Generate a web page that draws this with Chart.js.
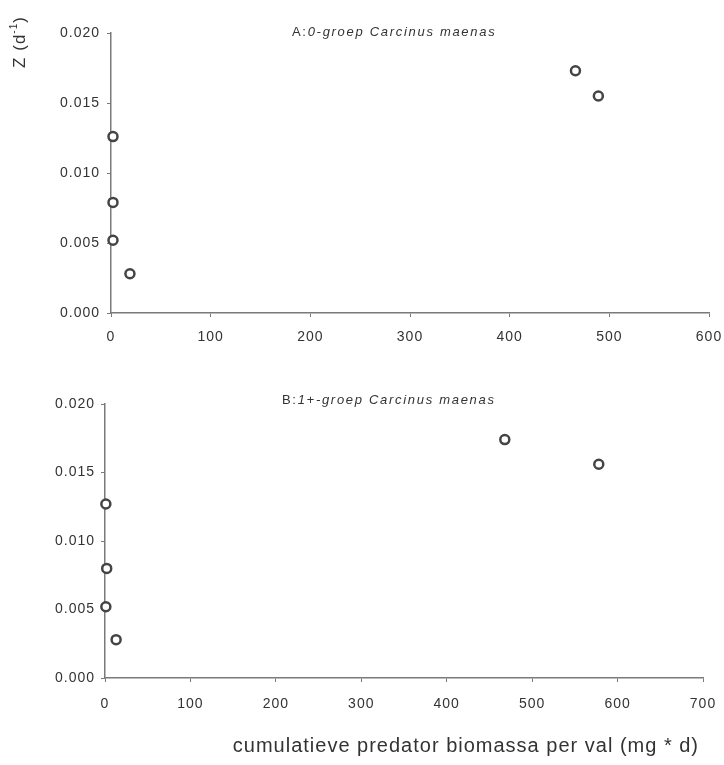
<!DOCTYPE html>
<html>
<head>
<meta charset="utf-8">
<script src="https://cdn.jsdelivr.net/npm/chart.js@4.4.0/dist/chart.umd.min.js"></script>
<style>
  body { margin: 0; background: #fff; }
  #wrap { position: relative; width: 724px; height: 765px; }
  .box { position: absolute; left: 0; width: 724px; }
  #boxA { top: 0; height: 345px; }
  #boxB { top: 380px; height: 385px; }
</style>
</head>
<body>
<div id="wrap">
  <div class="box" id="boxA"><canvas id="chartA"></canvas></div>
  <div class="box" id="boxB"><canvas id="chartB"></canvas></div>
</div>
<script>
// panel A: 0-groep
const biomassA = [2, 2, 2, 19, 466, 489]
const zA = [0.0126, 0.0079, 0.0052, 0.0028, 0.0173, 0.0155]

// panel B: 1+-groep
const biomassB = [1, 2, 1, 13, 468, 578]
const zB = [0.0127, 0.0080, 0.0052, 0.0028, 0.0174, 0.0156]

const zTicks = [0, 0.005, 0.010, 0.015, 0.020]
const xMaxA = 600
const xMaxB = 700

const axisColor = '#7a7a7a'
const textColor = '#333'
const fontFamily = 'Arial, "Liberation Sans", Helvetica, sans-serif'

function toPoints(xs, ys) {
  return xs.map((x, i) => ({ x: x, y: ys[i] }))
}

// the scanned lettering is set rather wide
const spacingPlugin = {
  id: 'spacing',
  beforeDraw(chart) {
    chart.ctx.letterSpacing = '1px'
  }
}

// draws the panel labels and the axis titles as text
const labelsPlugin = {
  id: 'panelLabels',
  afterDraw(chart, args, opts) {
    const ctx = chart.ctx
    ctx.save()
    ctx.fillStyle = textColor
    ctx.textBaseline = 'middle'

    // panel title: plain prefix + italic species text
    ctx.letterSpacing = '1.7px'
    ctx.font = '13px ' + fontFamily
    ctx.textAlign = 'left'
    ctx.fillText(opts.prefix, opts.titleX, opts.titleY)
    const w = ctx.measureText(opts.prefix).width
    ctx.font = 'italic 13px ' + fontFamily
    ctx.fillText(opts.species, opts.titleX + w, opts.titleY)

    ctx.letterSpacing = '1px'
    if (opts.yTitle) {
      ctx.translate(20, 42)
      ctx.rotate(-Math.PI / 2)
      const base = 'Z (d'
      const sup = '-1'
      const end = ')'
      ctx.font = '17px ' + fontFamily
      const wb = ctx.measureText(base).width
      ctx.font = '10px ' + fontFamily
      const ws = ctx.measureText(sup).width
      ctx.font = '17px ' + fontFamily
      const we = ctx.measureText(end).width
      let x = -(wb + ws + we) / 2
      ctx.textAlign = 'left'
      ctx.fillText(base, x, 0)
      x += wb
      ctx.font = '10px ' + fontFamily
      ctx.fillText(sup, x, -6)
      x += ws
      ctx.font = '17px ' + fontFamily
      ctx.fillText(end, x, 0)
      ctx.setTransform(1, 0, 0, 1, 0, 0)
    }

    if (opts.xTitle) {
      ctx.font = '20px ' + fontFamily
      ctx.textAlign = 'right'
      ctx.textBaseline = 'alphabetic'
      ctx.fillText(opts.xTitle, 699, opts.xTitleY)
    }
    ctx.restore()
  }
}

function makeChart(id, xs, ys, xMax, cfg) {
  return new Chart(document.getElementById(id), {
    type: 'scatter',
    data: {
      datasets: [{
        data: toPoints(xs, ys),
        clip: false,
        pointStyle: 'circle',
        pointRadius: 4.5,
        pointHoverRadius: 4.5,
        pointBorderWidth: 2.5,
        pointBackgroundColor: '#fff',
        pointBorderColor: '#444'
      }]
    },
    options: {
      responsive: true,
      maintainAspectRatio: false,
      animation: false,
      events: [],
      layout: {
        padding: { left: 0, right: cfg.padRight, top: cfg.padTop, bottom: 0 }
      },
      plugins: {
        legend: { display: false },
        tooltip: { enabled: false },
        panelLabels: cfg.labels
      },
      scales: {
        x: {
          type: 'linear',
          min: 0,
          max: xMax,
          afterFit: s => {
            s.height = cfg.xHeight
            s.paddingLeft = 0
            s.paddingRight = 0
          },
          ticks: {
            stepSize: 100,
            color: textColor,
            padding: cfg.xPad,
            maxRotation: 0,
            font: { family: fontFamily, size: 14 }
          },
          grid: { drawOnChartArea: false, tickLength: 4, color: axisColor, lineWidth: 1 },
          border: { color: axisColor, width: 1.5 }
        },
        y: {
          min: 0,
          max: 0.02,
          afterFit: s => {
            s.width = cfg.yWidth
            s.paddingTop = 0
            s.paddingBottom = 0
          },
          afterBuildTicks: s => { s.ticks = zTicks.map(v => ({ value: v })) },
          ticks: {
            color: textColor,
            padding: cfg.yPad,
            font: { family: fontFamily, size: 14 },
            callback: v => v.toFixed(3)
          },
          grid: { drawOnChartArea: false, tickLength: 4, color: axisColor, lineWidth: 1 },
          border: { color: axisColor, width: 1.5 }
        }
      }
    },
    plugins: [spacingPlugin, labelsPlugin]
  })
}

makeChart('chartA', biomassA, zA, xMaxA, {
  padRight: 15, padTop: 33, xHeight: 32, yWidth: 111, xPad: 12, yPad: 7,
  labels: { prefix: 'A:', species: '0-groep Carcinus maenas', titleX: 292, titleY: 32, yTitle: true }
})

makeChart('chartB', biomassB, zB, xMaxB, {
  padRight: 21, padTop: 24, xHeight: 87, yWidth: 105, xPad: 14, yPad: 6,
  labels: { prefix: 'B:', species: '1+-groep Carcinus maenas', titleX: 282, titleY: 20,
            xTitle: 'cumulatieve predator biomassa per val (mg * d)', xTitleY: 372 }
})
</script>
</body>
</html>
